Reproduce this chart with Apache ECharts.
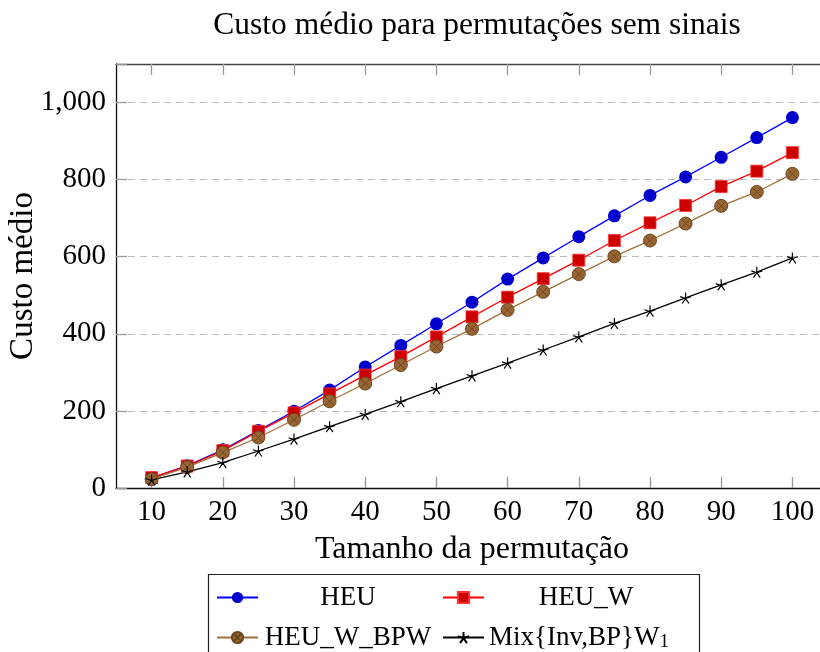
<!DOCTYPE html>
<html>
<head>
<meta charset="utf-8">
<script src="https://cdn.jsdelivr.net/npm/echarts@6/dist/echarts.min.js"></script>
<style>html,body{margin:0;padding:0;background:#fff}#c{width:820px;height:652px}</style>
</head>
<body>
<div id="c"></div>
<script>
const xValues = [10,15,20,25,30,35,40,45,50,55,60,65,70,75,80,85,90,95,100];
const heu      = [26,58,99,149,199,254,314,370,426,482,542,597,652,706,759,807,858,909,961];
const heuW     = [27,57,97,147,195,244,293,341,392,444,495,543,591,642,688,733,782,822,870];
const heuWBPW  = [23,54,92,131,177,225,271,319,367,413,462,509,555,601,642,686,732,768,815];
const mix      = [21,42,66,96,127,159,191,224,258,291,324,358,392,427,459,493,527,560,597];
const xTicks = [10,20,30,40,50,60,70,80,90,100];
const yTicks = [0,200,400,600,800,1000];
const names = ['HEU','HEU_W','HEU_W_BPW','Mix{Inv,BP}W1'];

const F = '"Liberation Serif", "DejaVu Serif", serif';
const pair = arr => xValues.map((x,i)=>[x,arr[i]]);

const otimes = 'path://M0,5 A5,5 0 1,1 10,5 A5,5 0 1,1 0,5 Z M1.46,1.46 L8.54,8.54 M8.54,1.46 L1.46,8.54';
const star = 'path://M5,0 L5,5 M0.245,3.455 L5,5 M2.06,9.045 L5,5 M7.94,9.045 L5,5 M9.755,3.455 L5,5';

const chart = echarts.init(document.getElementById('c'), null, {renderer:'canvas'});
function mkLegend(name, left, top, w, label) {
  return {
    data:[name], left:left, top:top, padding:0, orient:'horizontal', itemWidth:41, itemHeight:14, itemGap:0,
    selectedMode:false,
    formatter: () => '{c|' + label + '}',
    textStyle:{fontFamily:F, fontSize:27, color:'#000',
      rich:{
        c:{width:w, align:'center', fontFamily:F, fontSize:27, color:'#000'}
      }}
  };
}
chart.setOption({
  animation:false,
  title:{text:'Custo médio para permutações sem sinais', left:472, top:5, textAlign:'center',
    textStyle:{fontFamily:F, fontSize:31.5, fontWeight:'normal', color:'#000'}},
  grid:{left:116, top:64, right:-8, bottom:164, containLabel:false, outerBoundsMode:'none'},
  legend:[
    mkLegend(names[0], 216, 584, 170, 'HEU'),
    mkLegend(names[1], 442, 584, 194, 'HEU_W'),
    mkLegend(names[2], 216, 624, 170, 'HEU_W_BPW'),
    {data:[names[3]], left:442, top:624, padding:0, orient:'horizontal', itemWidth:41, itemHeight:14, itemGap:0,
      selectedMode:false,
      formatter: () => 'Mix{Inv,BP}W{sub|1}',
      textStyle:{fontFamily:F, fontSize:27, color:'#000',
        rich:{sub:{fontFamily:F, fontSize:19, color:'#000', verticalAlign:'bottom', padding:[10,0,0,0]}}}}
  ],
  graphic:[{type:'rect', shape:{x:208.5,y:574.5,width:491,height:100}, style:{fill:'none', stroke:'#222', lineWidth:1.2}, silent:true}],
  xAxis:[{
    type:'value', min:5, max:105, position:'bottom',
    name:'Tamanho da permutação', nameLocation:'middle', nameGap:46, nameMoveOverlap:false,
    nameTextStyle:{fontFamily:F, fontSize:32, color:'#000'},
    axisLine:{show:true, lineStyle:{color:'#111', width:1.3}},
    axisTick:{show:true, inside:true, length:11, customValues:xTicks, lineStyle:{color:'#999', width:1.3}},
    axisLabel:{customValues:xTicks, fontFamily:F, fontSize:29, color:'#000', margin:10},
    splitLine:{show:false}
  },{
    type:'value', min:5, max:105, position:'top',
    axisLine:{show:true, lineStyle:{color:'#444', width:1.3}},
    axisTick:{show:true, inside:true, length:11, customValues:xTicks, lineStyle:{color:'#999', width:1.3}},
    axisLabel:{show:false}, splitLine:{show:false}
  }],
  yAxis:[{
    type:'value', min:0, max:1100, interval:200,
    name:'Custo médio', nameLocation:'middle', nameGap:76, nameRotate:90, nameMoveOverlap:false,
    nameTextStyle:{fontFamily:F, fontSize:33, color:'#000'},
    axisLine:{show:true, lineStyle:{color:'#111', width:1.3}},
    axisTick:{show:true, inside:true, length:11, lineStyle:{color:'#999', width:1.3}},
    axisLabel:{fontFamily:F, fontSize:29, color:'#000', margin:10,
      formatter: v => yTicks.includes(v) ? v.toLocaleString('en-US') : ''},
    splitLine:{show:true, lineStyle:{color:'#bbb', type:[7,5], width:1.2}}
  }],
  series:[
    {name:names[0], type:'line', data:pair(heu), symbol:'circle', symbolSize:13,
      lineStyle:{color:'#0000ff', width:1.3}, itemStyle:{color:'#0000cc', borderColor:'#0000cc', borderWidth:0}},
    {name:names[1], type:'line', data:pair(heuW), symbol:'rect', symbolSize:12,
      lineStyle:{color:'#ff0000', width:1.3}, itemStyle:{color:'#cc0000', borderColor:'#ff3030', borderWidth:0.8}},
    {name:names[2], type:'line', data:pair(heuWBPW), symbol:otimes, symbolSize:13,
      lineStyle:{color:'#a0703a', width:1.3}, itemStyle:{color:'#996633', borderColor:'#6b4620', borderWidth:1}},
    {name:names[3], type:'line', data:pair(mix), symbol:star, symbolSize:11,
      lineStyle:{color:'#000', width:1.3}, itemStyle:{color:'#000', borderColor:'#000', borderWidth:1.2}}
  ]
});
</script>
</body>
</html>
